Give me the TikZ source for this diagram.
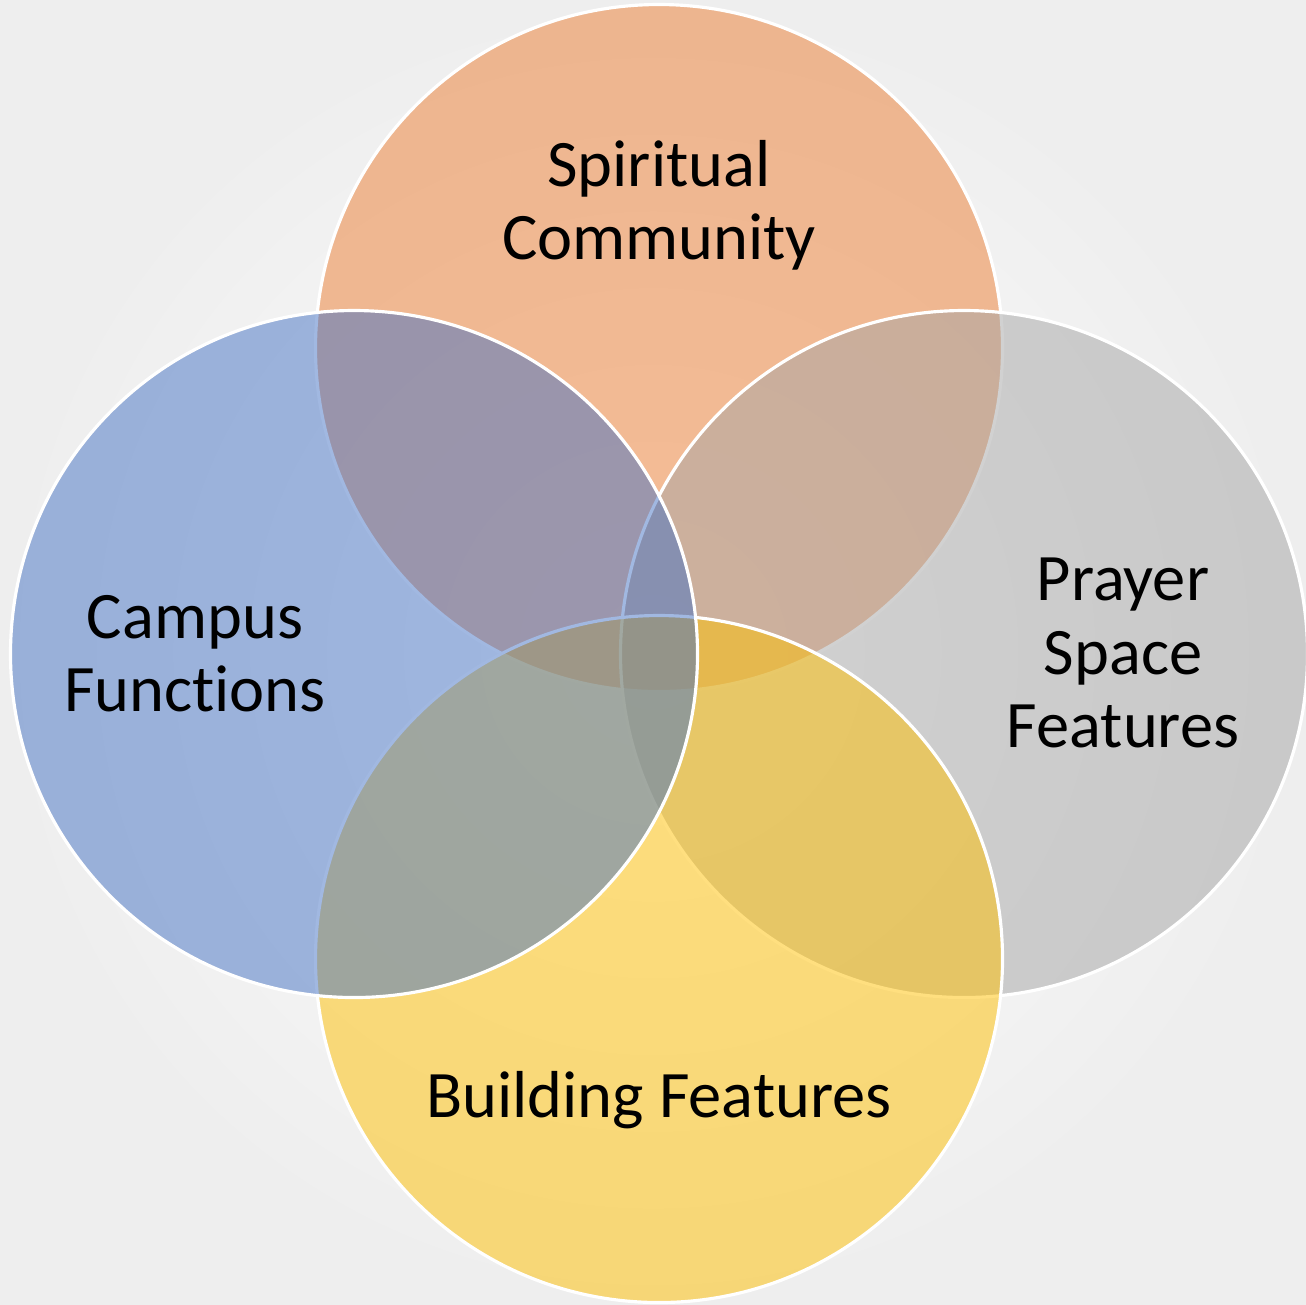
\documentclass[tikz,border=0pt]{standalone}
\usepackage{fontspec}
\setmainfont{Carlito}[RawFeature=-liga]
\usetikzlibrary{shapes.geometric, positioning}
\definecolor{spiritorange}{RGB}{237, 125, 49}
\definecolor{campusblue}{RGB}{68, 114, 196}
\definecolor{prayergray}{RGB}{165, 165, 165}
\definecolor{buildyellow}{RGB}{255, 192, 0}
\definecolor{bgedge}{RGB}{238, 238, 238}
\tikzset{
    venn/.style={
        circle, minimum size=6.87cm, inner sep=0pt,
        draw=white, line width=0.9pt, fill opacity=0.5
    },
    orangeset/.style={venn, fill=spiritorange},
    blueset/.style={venn, fill=campusblue},
    grayset/.style={venn, fill=prayergray},
    yellowset/.style={venn, fill=buildyellow},
    setlabel/.style={font=\fontsize{18.9}{20.8}\selectfont, text=black, align=center},
}

\begin{document}
\begin{tikzpicture}
    % background
    \shade[inner color=white, outer color=bgedge] (0,0) rectangle (13.06,-13.04);
    \useasboundingbox (0,0) rectangle (13.06,-13.04);

    % the four sets
    \node[orangeset] (spirit) at (6.59,-3.48) {};
    \node[grayset] (prayer) at (9.64,-6.54) {};
    \node[yellowset] (build) at (6.59,-9.59) {};
    \node[blueset] (campus) at (3.54,-6.54) {};

    % labels
    \node[setlabel] (spiritlbl) at (6.59,-2.05) {Spiritual\\Community};
    \node[setlabel] (prayerlbl) at (11.23,-6.53) {Prayer\\Space\\Features};
    \node[setlabel] (buildlbl) at (6.59,-11.0) {Building Features};
    \node[setlabel] (campuslbl) at (1.95,-6.54) {Campus\\Functions};
\end{tikzpicture}
\end{document}
